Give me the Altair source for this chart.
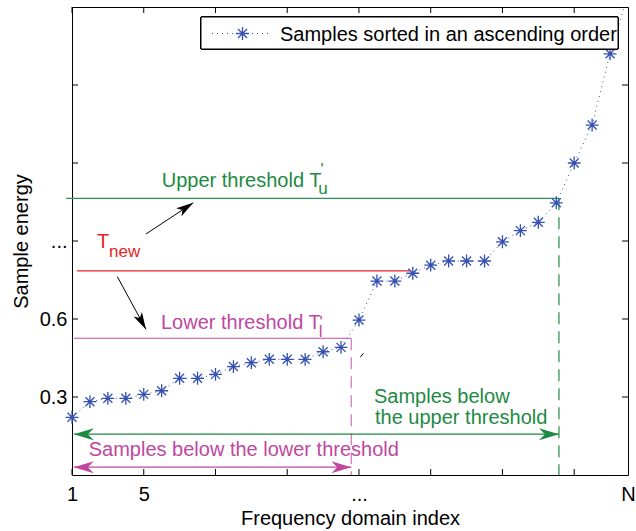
import math
import altair as alt
import pandas as pd

# Sorted sample energies (index 1..N, N = 32)
index = list(range(1, 33))
energy = [0.222, 0.282, 0.295, 0.295, 0.310, 0.324, 0.372, 0.372, 0.387, 0.417,
          0.432, 0.445, 0.445, 0.445, 0.474, 0.491, 0.596, 0.746, 0.746, 0.776,
          0.807, 0.823, 0.823, 0.823, 0.897, 0.940, 0.972, 1.047, 1.200, 1.346,
          1.620, 1.850]

# Axis ticks and their labels
x_ticks = [1, 5, 9, 13, 17, 21, 25, 29]
x_label_values = [1, 5, 17, 32]
y_ticks = [0.3, 0.6, 0.9, 1.2, 1.5]
y_label_values = [0.3, 0.6, 0.9]

# Thresholds
upper_T = 1.064      # T'_u
lower_T = 0.526      # T'_l
new_T = 0.785        # T_new
upper_idx = 28.15    # last sample below the upper threshold
lower_idx = 16.57    # last sample below the lower threshold

X_MIN, X_MAX = 1, 32
Y_MIN, Y_MAX = 0.0, 1.8
W, H = 556, 468
FONT = "Liberation Sans"

BLUE = "#3550b0"
GREEN_T = "#1c8a42"
GREEN_L = "#2f9652"
MAG_T = "#c0479f"
MAG_L = "#c24aa8"
RED = "#e52528"

xs = alt.Scale(domain=[X_MIN, X_MAX], nice=False, zero=False)
ys = alt.Scale(domain=[Y_MIN, Y_MAX], nice=False, zero=False)


def to_px(xv, yv):
    return (xv - X_MIN) / (X_MAX - X_MIN) * W, H - (yv - Y_MIN) / (Y_MAX - Y_MIN) * H


def heading(x0, y0, x1, y1):
    ax, ay = to_px(x0, y0)
    bx, by = to_px(x1, y1)
    return math.degrees(math.atan2(by - ay, bx - ax)) % 360


STAR = "M-1,0L1,0M0,-1L0,1M-0.7,-0.7L0.7,0.7M-0.7,0.7L0.7,-0.7"
HEAD = "M0,0L-2,-0.6L-1.4,0L-2,0.6Z"
HEAD_BLACK = "M0,0L-2,-0.55L-1.5,0L-2,0.55Z"

samples = pd.DataFrame({"idx": index, "energy": energy})

# Dotted connecting line and asterisk markers
line = alt.Chart(samples).mark_line(
    color=BLUE, strokeWidth=1, strokeDash=[1, 4], clip=True
).encode(
    x=alt.X("idx:Q", scale=xs, axis=alt.Axis(
        values=x_label_values,
        labelExpr="datum.value == 17 ? '...' : (datum.value == 32 ? 'N' : datum.label)",
        ticks=False, domain=False, grid=False, labelPadding=9,
        labelFlush=False, labelOverlap=False,
        title="Frequency domain index", titleY=49, titleX=W / 2,
        titleBaseline="alphabetic")),
    y=alt.Y("energy:Q", scale=ys, axis=alt.Axis(
        values=y_label_values,
        labelExpr="datum.value > 0.8 ? '...' : format(datum.value, '.1f')",
        ticks=False, domain=False, grid=False, labelPadding=5,
        title="Sample energy", titleAngle=270, titleX=-45, titleY=H / 2,
        titleAlign="center", titleBaseline="alphabetic")),
)

# markers above the top of the axes are not drawn; the others may overhang the frame
stars = alt.Chart(samples).transform_filter(
    alt.datum.energy <= Y_MAX
).mark_point(
    shape=STAR, filled=False, color=BLUE, size=165, strokeWidth=1.3,
    opacity=1, clip=False
).encode(
    x=alt.X("idx:Q", scale=xs),
    y=alt.Y("energy:Q", scale=ys),
)

# Horizontal threshold lines
hlines = pd.DataFrame({
    "x0": [0.665, 1.11, 1.28],
    "x1": [upper_idx, lower_idx, 19.85],
    "y": [upper_T, lower_T, new_T],
    "c": [GREEN_L, MAG_L, RED],
})
hrules = alt.Chart(hlines).mark_rule(strokeWidth=1.1, clip=False).encode(
    x=alt.X("x0:Q", scale=xs), x2="x1:Q",
    y=alt.Y("y:Q", scale=ys),
    color=alt.Color("c:N", scale=None),
)

# Dashed verticals down to the axis
vlines = pd.DataFrame({
    "x": [upper_idx, lower_idx],
    "y0": [upper_T, lower_T],
    "y1": [Y_MIN, Y_MIN],
    "c": [GREEN_L, "#d27cc2"],
})
vrules = alt.Chart(vlines).mark_rule(strokeWidth=1.3, strokeDash=[12, 7]).encode(
    x=alt.X("x:Q", scale=xs),
    y=alt.Y("y0:Q", scale=ys), y2="y1:Q",
    color=alt.Color("c:N", scale=None),
)

# Double-headed span arrows
spans = pd.DataFrame({
    "x0": [1.1, 1.1],
    "x1": [upper_idx, lower_idx],
    "y": [0.157, 0.030],
    "c": [GREEN_T, MAG_T],
})
span_rules = alt.Chart(spans).mark_rule(strokeWidth=1.3).encode(
    x=alt.X("x0:Q", scale=xs), x2="x1:Q",
    y=alt.Y("y:Q", scale=ys),
    color=alt.Color("c:N", scale=None),
)
span_heads_df = pd.DataFrame({
    "x": [1.1, upper_idx, 1.1, lower_idx],
    "y": [0.157, 0.157, 0.030, 0.030],
    "ang": [180, 0, 180, 0],
    "c": [GREEN_T, GREEN_T, MAG_T, MAG_T],
})
span_heads = alt.Chart(span_heads_df).mark_point(
    shape=HEAD, filled=True, size=400, opacity=1, strokeWidth=0
).encode(
    x=alt.X("x:Q", scale=xs),
    y=alt.Y("y:Q", scale=ys),
    angle=alt.Angle("ang:Q", scale=None),
    color=alt.Color("c:N", scale=None),
)

# Black pointer arrows from T_new
pointers = pd.DataFrame({
    "x0": [5.126, 3.526],
    "y0": [0.927, 0.763],
    "x1": [7.763, 5.126],
    "y1": [1.047, 0.560],
})
pointers["ang"] = [heading(a, b, c, d) for a, b, c, d in
                   zip(pointers.x0, pointers.y0, pointers.x1, pointers.y1)]
pointer_rules = alt.Chart(pointers).mark_rule(color="black", strokeWidth=1).encode(
    x=alt.X("x0:Q", scale=xs), x2="x1:Q",
    y=alt.Y("y0:Q", scale=ys), y2="y1:Q",
)
pointer_heads = alt.Chart(pointers).mark_point(
    shape=HEAD_BLACK, filled=True, size=300, color="black", opacity=1, strokeWidth=0
).encode(
    x=alt.X("x1:Q", scale=xs),
    y=alt.Y("y1:Q", scale=ys),
    angle=alt.Angle("ang:Q", scale=None),
)

# Small stray stroke next to sample 17
stray = pd.DataFrame({"x0": [17.08], "y0": [0.454], "x1": [17.25], "y1": [0.468]})
stray_rule = alt.Chart(stray).mark_rule(color="black", strokeWidth=1).encode(
    x=alt.X("x0:Q", scale=xs), x2="x1:Q",
    y=alt.Y("y0:Q", scale=ys), y2="y1:Q",
)

# Inward tick marks on all four sides
xt = pd.DataFrame({"x": x_ticks})
yt = pd.DataFrame({"y": y_ticks})
TL = 6
xtick_bottom = alt.Chart(xt).mark_rule(color="black", strokeWidth=1).encode(
    x=alt.X("x:Q", scale=xs), y=alt.value(H), y2=alt.value(H - TL))
xtick_top = alt.Chart(xt).mark_rule(color="black", strokeWidth=1).encode(
    x=alt.X("x:Q", scale=xs), y=alt.value(0), y2=alt.value(TL))
ytick_left = alt.Chart(yt).mark_rule(color="black", strokeWidth=1).encode(
    y=alt.Y("y:Q", scale=ys), x=alt.value(0), x2=alt.value(TL))
ytick_right = alt.Chart(yt).mark_rule(color="black", strokeWidth=1).encode(
    y=alt.Y("y:Q", scale=ys), x=alt.value(W), x2=alt.value(W - TL))

# Annotation texts (pixel positions inside the plot area)
OX, OY = 72, 7
notes = pd.DataFrame([
    ("Upper threshold T", 161.7, 186.7, GREEN_T, 20),
    ("u", 318.3, 193.5, GREEN_T, 17),
    ("'", 320.5, 175.0, GREEN_T, 16),
    ("Lower threshold T", 161.0, 329.0, MAG_T, 20),
    ("l", 318.7, 336.7, MAG_T, 17),
    ("'", 319.5, 328.0, MAG_T, 16),
    ("T", 97.0, 248.0, RED, 20),
    ("new", 109.0, 257.0, RED, 17),
    ("Samples below", 374.0, 402.7, GREEN_T, 20),
    ("the upper threshold", 375.0, 424.3, GREEN_T, 20),
    ("Samples below the lower threshold", 88.7, 456.0, MAG_T, 20),
], columns=["txt", "px", "py", "c", "fs"])
notes["px"] = notes["px"] - OX
notes["py"] = notes["py"] - OY
note_text = alt.Chart(notes).mark_text(
    align="left", baseline="alphabetic", font=FONT
).encode(
    x=alt.X("px:Q", scale=None),
    y=alt.Y("py:Q", scale=None),
    text="txt:N",
    color=alt.Color("c:N", scale=None),
    size=alt.Size("fs:Q", scale=None),
)

# Legend box
legend_box = alt.Chart(samples).mark_rect(
    fill="white", stroke="black", strokeWidth=1
).encode(
    x=alt.value(201 - OX), x2=alt.value(618 - OX),
    y=alt.value(17 - OY), y2=alt.value(49 - OY),
)
legend_line = alt.Chart(samples).mark_rule(
    color=BLUE, strokeWidth=1, strokeDash=[1, 4]
).encode(
    x=alt.value(212 - OX), x2=alt.value(272 - OX), y=alt.value(33.5 - OY),
)
legend_star = alt.Chart(pd.DataFrame({"k": [0]})).mark_point(
    shape=STAR, filled=False, color=BLUE, size=165, strokeWidth=1.3, opacity=1
).encode(x=alt.value(242.5 - OX), y=alt.value(33.5 - OY))
legend_text = alt.Chart(pd.DataFrame({"t": ["Samples sorted in an ascending order"]})).mark_text(
    align="left", baseline="alphabetic", font=FONT, fontSize=20, color="black"
).encode(x=alt.value(280 - OX), y=alt.value(40.7 - OY), text="t:N")

chart = alt.layer(
    hrules, vrules, span_rules, span_heads, pointer_rules, pointer_heads, stray_rule,
    line, stars,
    xtick_bottom, xtick_top, ytick_left, ytick_right,
    note_text,
    legend_box, legend_line, legend_star, legend_text,
).properties(
    width=W, height=H,
    autosize=alt.AutoSizeParams(type="none"),
    padding={"left": OX, "top": OY, "right": 636 - OX - W, "bottom": 531 - OY - H},
).configure_view(
    stroke="black", strokeWidth=1
).configure_axis(
    labelFont=FONT, titleFont=FONT, labelFontSize=20, titleFontSize=20,
    labelColor="black", titleColor="black", titleFontWeight="normal",
)

chart.save("out.html", embed_options={"renderer": "svg", "actions": False})
